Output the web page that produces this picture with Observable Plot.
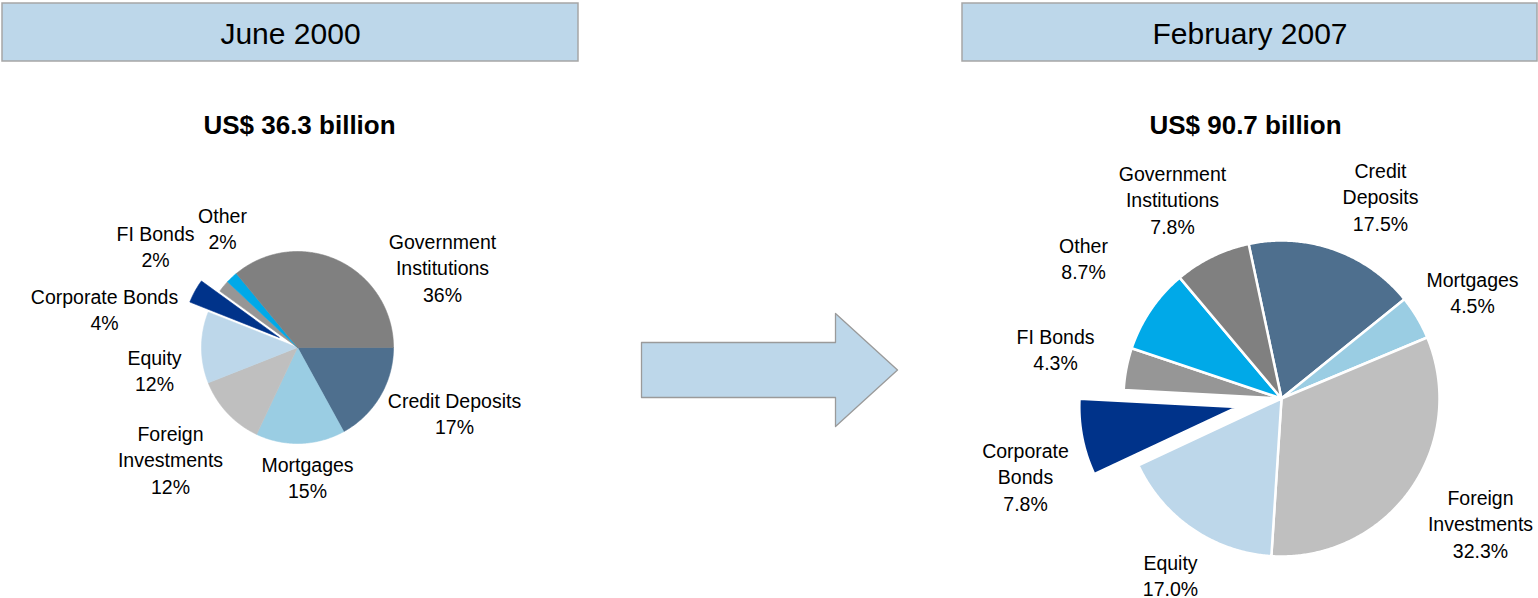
<!DOCTYPE html>
<html><head><meta charset="utf-8">
<script src="https://cdn.jsdelivr.net/npm/d3@7"></script>
<script src="https://cdn.jsdelivr.net/npm/@observablehq/plot@0.6"></script>
<style>
html,body{margin:0;padding:0;background:#fff;}
svg{display:block;}
</style>
</head><body><div id="chart"></div>
<script>
// ---------- data ----------
const categories = ["Credit Deposits","Mortgages","Foreign Investments","Equity","Corporate Bonds","FI Bonds","Other","Government Institutions"];
const share2000 = [17, 15, 12, 12, 4, 2, 2, 36];
const share2007 = [17.5, 4.5, 32.3, 17.0, 7.8, 4.3, 8.7, 7.8];
const periods = ["June 2000", "February 2007"];
const totals = ["US$ 36.3 billion", "US$ 90.7 billion"];
const labelLines2000 = [["Credit Deposits"],["Mortgages"],["Foreign","Investments"],["Equity"],["Corporate Bonds"],["FI Bonds"],["Other"],["Government","Institutions"]];
const labelLines2007 = [["Credit","Deposits"],["Mortgages"],["Foreign","Investments"],["Equity"],["Corporate","Bonds"],["FI Bonds"],["Other"],["Government","Institutions"]];
const colors = ["#4E6F8E","#9ACDE3","#BFBFBF","#BDD7EA","#00338A","#969696","#00A9E8","#808080"];
const exploded = "Corporate Bonds";

// ---------- layout ----------
const W = 1538, H = 598;
const FONT = "'Liberation Sans', Arial, Helvetica, sans-serif";
const labelSize = 19.5, lineStep = 26.8;
const pies = [
  {key: "p2000", values: share2000, lines: labelLines2000, fmt: d3.format(".0f"),
   cx: 297, cy: 347, r: 96, start: 90, explode: 21, stroke: "same", sw: 0.6,
   labelPos: [[454,407],[307,471],[170,440],[154,364],[104,303],[155,240],[222,222],[442,248]]},
  {key: "p2007", values: share2007, lines: labelLines2007, fmt: d3.format(".1f"),
   cx: 1281, cy: 398, r: 158, start: -12, explode: 45, stroke: "white", sw: 2.5,
   labelPos: [[1380,177],[1472,286],[1480,504],[1170,569],[1025,457],[1055,343],[1083,252],[1172,180]]}
];
const headerBoxes = [{x1: 2, x2: 578}, {x1: 962, x2: 1537}];
const headerY = [3, 61], headerBaseline = 43;
const titlePos = [[299,133],[1245,133]];
const arrow = {x0: 641, xh: 835, xt: 897, ym: 369.5, body: 27.5, head: 56.5};

// ---------- build geometry ----------
function slicePoints(cfg) {
  const data = categories.map((c, i) => ({category: c, value: cfg.values[i], color: colors[i]}));
  const a0 = cfg.start * Math.PI / 180;
  const arcs = d3.pie().sort(null).value(d => d.value).startAngle(a0).endAngle(a0 + 2 * Math.PI)(data);
  const pts = [];
  for (const a of arcs) {
    const off = a.data.category === exploded ? cfg.explode : 0;
    const mid = (a.startAngle + a.endAngle) / 2;
    const ox = cfg.cx + off * Math.sin(mid), oy = cfg.cy - off * Math.cos(mid);
    const id = cfg.key + "|" + a.data.category;
    const col = a.data.color;
    const n = Math.max(2, Math.ceil((a.endAngle - a.startAngle) / (Math.PI / 360)));
    pts.push({id, x: ox, y: oy, color: col});
    for (let k = 0; k <= n; k++) {
      const t = a.startAngle + (a.endAngle - a.startAngle) * k / n;
      pts.push({id, x: ox + cfg.r * Math.sin(t), y: oy - cfg.r * Math.cos(t), color: col});
    }
    pts.push({id, x: ox, y: oy, color: col});
  }
  return pts;
}

function labelRecords(cfg) {
  const out = [];
  categories.forEach((c, i) => {
    const lines = [...cfg.lines[i], cfg.fmt(cfg.values[i]) + "%"];
    const [x, y0] = cfg.labelPos[i];
    lines.forEach((t, j) => out.push({text: t, x, y: y0 + j * lineStep}));
  });
  return out;
}

const arrowPts = [
  [arrow.x0, arrow.ym - arrow.body], [arrow.xh, arrow.ym - arrow.body], [arrow.xh, arrow.ym - arrow.head],
  [arrow.xt, arrow.ym], [arrow.xh, arrow.ym + arrow.head], [arrow.xh, arrow.ym + arrow.body],
  [arrow.x0, arrow.ym + arrow.body], [arrow.x0, arrow.ym - arrow.body]
].map(([x, y]) => ({x, y}));

const headers = periods.map((p, i) => ({text: p, x1: headerBoxes[i].x1, x2: headerBoxes[i].x2, xc: (headerBoxes[i].x1 + headerBoxes[i].x2) / 2}));
const titles = totals.map((t, i) => ({text: t, x: titlePos[i][0], y: titlePos[i][1]}));

const marks = [
  Plot.rect(headers, {x1: "x1", x2: "x2", y1: () => headerY[0], y2: () => headerY[1], fill: "#BDD7EA", stroke: "#A6A6A6", strokeWidth: 1.5}),
  Plot.text(headers, {x: "xc", y: () => headerBaseline, text: "text", fontSize: 30, lineAnchor: "bottom", fill: "#000"}),
  Plot.text(titles, {x: "x", y: "y", text: "text", fontSize: 26, fontWeight: "bold", lineAnchor: "bottom", fill: "#000"}),
  Plot.line(arrowPts, {x: "x", y: "y", fill: "#BDD7EA", stroke: "#9A9A9A", strokeWidth: 1.3, curve: "linear"})
];
for (const cfg of pies) {
  const pts = slicePoints(cfg);
  marks.push(Plot.line(pts, {x: "x", y: "y", z: "id", fill: "color",
    stroke: cfg.stroke === "same" ? "color" : cfg.stroke, strokeWidth: cfg.sw,
    strokeLinejoin: "round", curve: "linear"}));
  marks.push(Plot.text(labelRecords(cfg), {x: "x", y: "y", text: "text", fontSize: labelSize, lineAnchor: "bottom", fill: "#000"}));
}

const chart = Plot.plot({
  width: W, height: H,
  margin: 0,
  style: {fontFamily: FONT, background: "#fff", overflow: "visible"},
  x: {domain: [0, W], range: [0, W], axis: null},
  y: {domain: [0, H], range: [0, H], axis: null},
  color: {type: "identity"},
  marks
});
document.getElementById("chart").appendChild(chart);
</script>
</body></html>
